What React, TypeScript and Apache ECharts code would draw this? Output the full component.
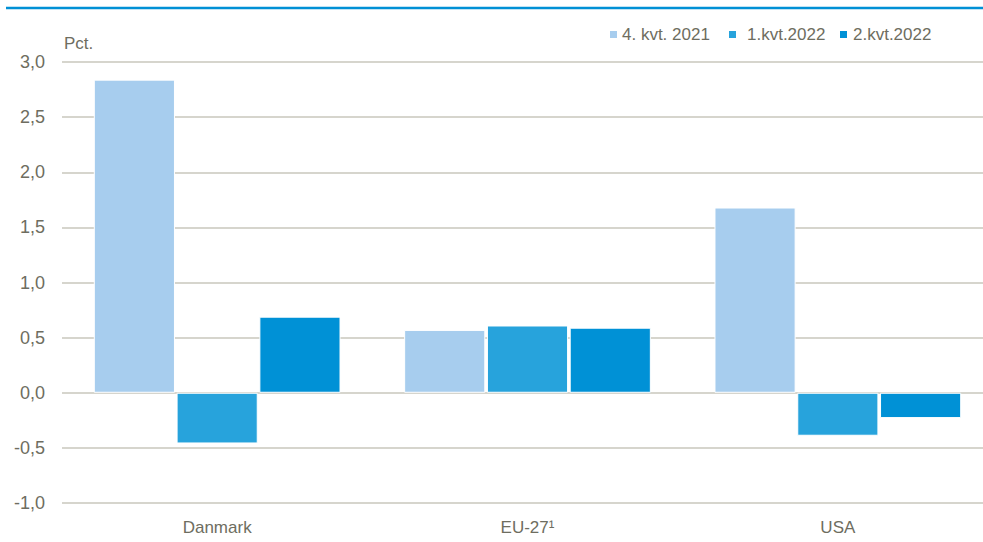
import React, { useEffect, useRef } from "react";
import * as echarts from "echarts";

const categories = ["Danmark", "EU-27¹", "USA"];
const seriesNames = ["4. kvt. 2021", "1.kvt.2022", "2.kvt.2022"];
const q4_2021 = [2.84, 0.57, 1.68];
const q1_2022 = [-0.46, 0.61, -0.39];
const q2_2022 = [0.69, 0.59, -0.23];
const colors = ["#A7CDEE", "#27A3DC", "#0091D6"];

export default function App() {
  const ref = useRef<HTMLDivElement>(null);
  useEffect(() => {
    const chart = echarts.init(ref.current!, null, { renderer: "svg" });
    const textColor = "#6E6D60";
    const font = "'Liberation Sans', Arial, sans-serif";
    const data = [q4_2021, q1_2022, q2_2022];
    const legendLefts = [608, 727, 838];
    const textPads = [-1, 5, 0];
    chart.setOption({
      animation: false,
      grid: { left: 62, width: 931, top: 62, bottom: 39, outerBoundsMode: "none" },
      legend: seriesNames.map((n, i) => ({
        top: 26,
        left: legendLefts[i],
        padding: 0,
        itemWidth: 9,
        itemHeight: 9,
        icon: "rect",
        textStyle: { color: textColor, fontSize: 17, fontFamily: font, padding: [0, 0, 0, textPads[i]] },
        data: [n],
      })),
      graphic: [
        {
          type: "line",
          shape: { x1: 6, y1: 8, x2: 983, y2: 8 },
          style: { stroke: "#0090D5", lineWidth: 2.5 },
        },
        {
          type: "text",
          left: 64,
          top: 35,
          style: { text: "Pct.", fill: textColor, fontSize: 17, fontFamily: font },
        },
      ],
      xAxis: {
        type: "category",
        data: categories,
        axisLine: { show: false },
        axisTick: { show: false },
        axisLabel: { color: textColor, fontSize: 17, fontFamily: font, margin: 16 },
      },
      yAxis: {
        type: "value",
        min: -1,
        max: 3,
        interval: 0.5,
        axisLine: { show: false },
        axisTick: { show: false },
        splitLine: { lineStyle: { color: "#C9C7BD", width: 1.5 } },
        axisLabel: {
          color: textColor,
          fontSize: 18,
          fontFamily: font,
          margin: 17,
          formatter: (v: number) => v.toFixed(1).replace(".", ","),
        },
      },
      series: seriesNames.map((name, i) => ({
        name,
        type: "bar",
        data: data[i],
        barGap: "2%",
        barCategoryGap: "20.5%",
        itemStyle: { color: colors[i], borderColor: "#ffffff", borderWidth: 1 },
      })),
    });
    return () => chart.dispose();
  }, []);
  return (
    <div
      ref={ref}
      style={{ position: "absolute", left: 0, top: 0, width: 983, height: 542 }}
    />
  );
}
